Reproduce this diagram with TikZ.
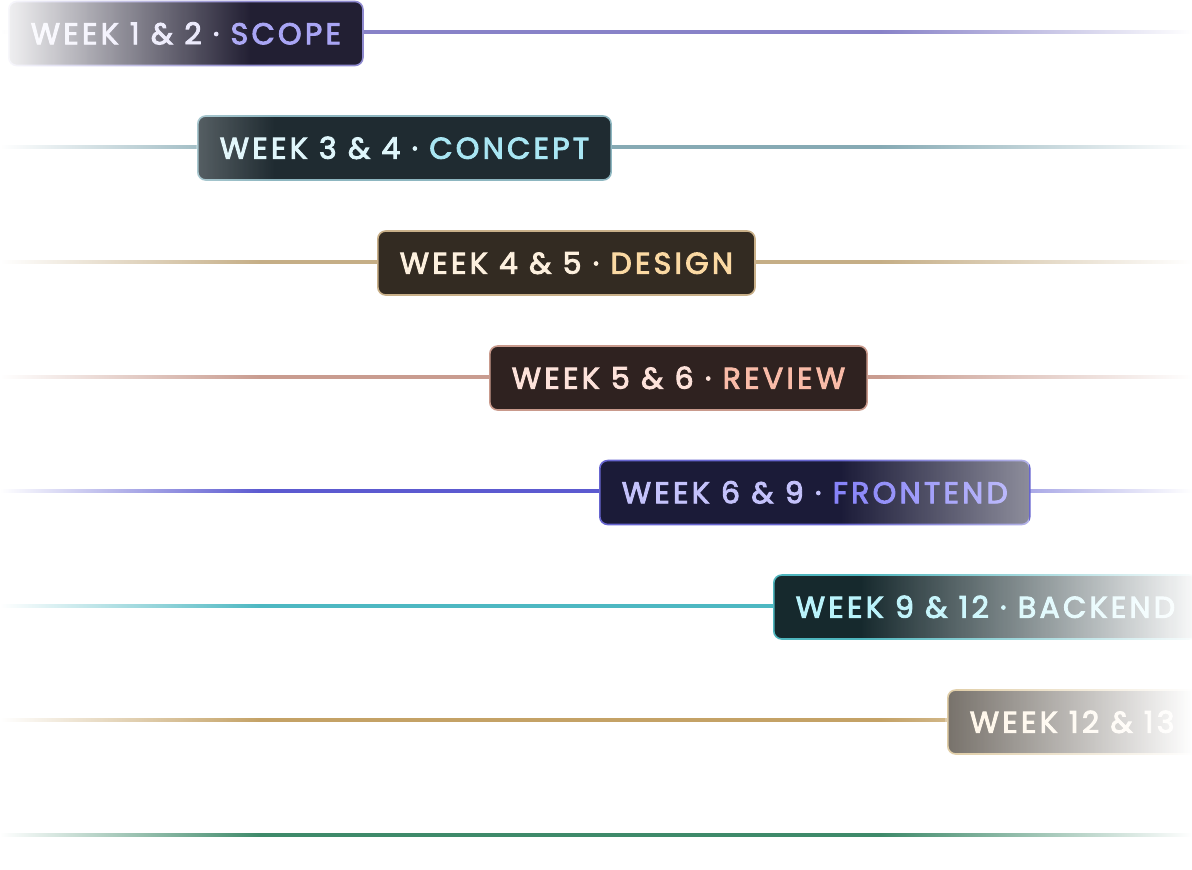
\documentclass[tikz,border=0pt]{standalone}
\usepackage{fontspec}
\setmainfont{Poppins}[LetterSpace=11,FakeBold=3]
\usetikzlibrary{fadings}
\tikzfading[name=fadeseven, left color=transparent!70, right color=transparent!0]
\definecolor{r1}{HTML}{8882C8}\definecolor{f1}{HTML}{221F33}\definecolor{b1}{HTML}{8F8AD0}\definecolor{t1}{HTML}{E6E4FB}\definecolor{a1}{HTML}{A9A5F5}
\definecolor{r2}{HTML}{86AAB4}\definecolor{f2}{HTML}{1F2B31}\definecolor{b2}{HTML}{8DB6C0}\definecolor{t2}{HTML}{DFF6FB}\definecolor{a2}{HTML}{A9E6F3}
\definecolor{r3}{HTML}{C5AE86}\definecolor{f3}{HTML}{332B22}\definecolor{b3}{HTML}{C9B089}\definecolor{t3}{HTML}{FDF0DE}\definecolor{a3}{HTML}{FBD9A3}
\definecolor{r4}{HTML}{C99C90}\definecolor{f4}{HTML}{2F2220}\definecolor{b4}{HTML}{C99A8C}\definecolor{t4}{HTML}{FDE2DA}\definecolor{a4}{HTML}{F9BBA8}
\definecolor{r5}{HTML}{5C5AD0}\definecolor{f5}{HTML}{1B1B38}\definecolor{b5}{HTML}{6765D0}\definecolor{t5}{HTML}{C4C2FB}\definecolor{a5}{HTML}{8783F9}
\definecolor{r6}{HTML}{4DB8C2}\definecolor{f6}{HTML}{16292D}\definecolor{b6}{HTML}{4FB6BE}\definecolor{t6}{HTML}{B9F3FB}\definecolor{a6}{HTML}{C2F5FB}
\definecolor{r7}{HTML}{C4A266}\definecolor{f7}{HTML}{3C342A}\definecolor{b7}{HTML}{D3B880}\definecolor{t7}{HTML}{FFF3DE}
\definecolor{r8}{HTML}{3E8A6A}
\newcommand\railline[2]{%
  \fill[left color=white, right color=#2] (0,#1-1.75) rectangle (260,#1+1.75);
  \fill[#2] (260,#1-1.75) rectangle (880,#1+1.75);
  \fill[left color=#2, right color=white] (880,#1-1.75) rectangle (1192,#1+1.75);}
\tikzset{
  pill/.style n args={3}{draw=#1, fill=#2, text=#3, line width=1.6pt, rounded corners=8pt,
    minimum height=64pt, inner xsep=22pt, inner ysep=0pt, text height=21.5pt, text depth=0pt,
    anchor=west, font=\fontsize{30}{35}\selectfont}
}
\begin{document}
\begin{tikzpicture}[x=1pt,y=-1pt]
\useasboundingbox[fill=white] (0,0) rectangle (1192,870);
% rails
\railline{32}{r1}
\railline{147}{r2}
\railline{262}{r3}
\railline{377}{r4}
\railline{491}{r5}
\railline{606}{r6}
\railline{720}{r7}
\railline{835}{r8}
% boxes
\node[pill={b1}{f1}{t1}] (s1) at (8,33.5) {WEEK 1 \& 2 · \textcolor{a1}{SCOPE}};
\node[pill={b2}{f2}{t2}] (s2) at (197,148) {WEEK 3 \& 4 · \textcolor{a2}{CONCEPT}};
\node[pill={b3}{f3}{t3}] (s3) at (377,263) {WEEK 4 \& 5 · \textcolor{a3}{DESIGN}};
\node[pill={b4}{f4}{t4}] (s4) at (489,378) {WEEK 5 \& 6 · \textcolor{a4}{REVIEW}};
\node[pill={b5}{f5}{t5}] (s5) at (599,492.5) {WEEK 6 \& 9 · \textcolor{a5}{FRONTEND}};
\node[pill={b6}{f6}{t6}] (s6) at (773,607) {WEEK 9 \& 12 · \textcolor{a6}{BACKEND}};
\node[pill={b7}{f7}{t7}] (s7) at (947,722) {WEEK 12 \& 13};
% fades
\fill[white, path fading=east, opacity=.95] (5,-1) rectangle (250,68);
\fill[white, path fading=east, opacity=.25] (196,115) rectangle (275,181);
\fill[white, path fading=west, opacity=.5] (840,459) rectangle (1029,526);
\fill[white, path fading=west, opacity=.97] (860,573) rectangle (1192,641);
\fill[white, path fading=fadeseven] (945,688) rectangle (1192,756);
\end{tikzpicture}
\end{document}
